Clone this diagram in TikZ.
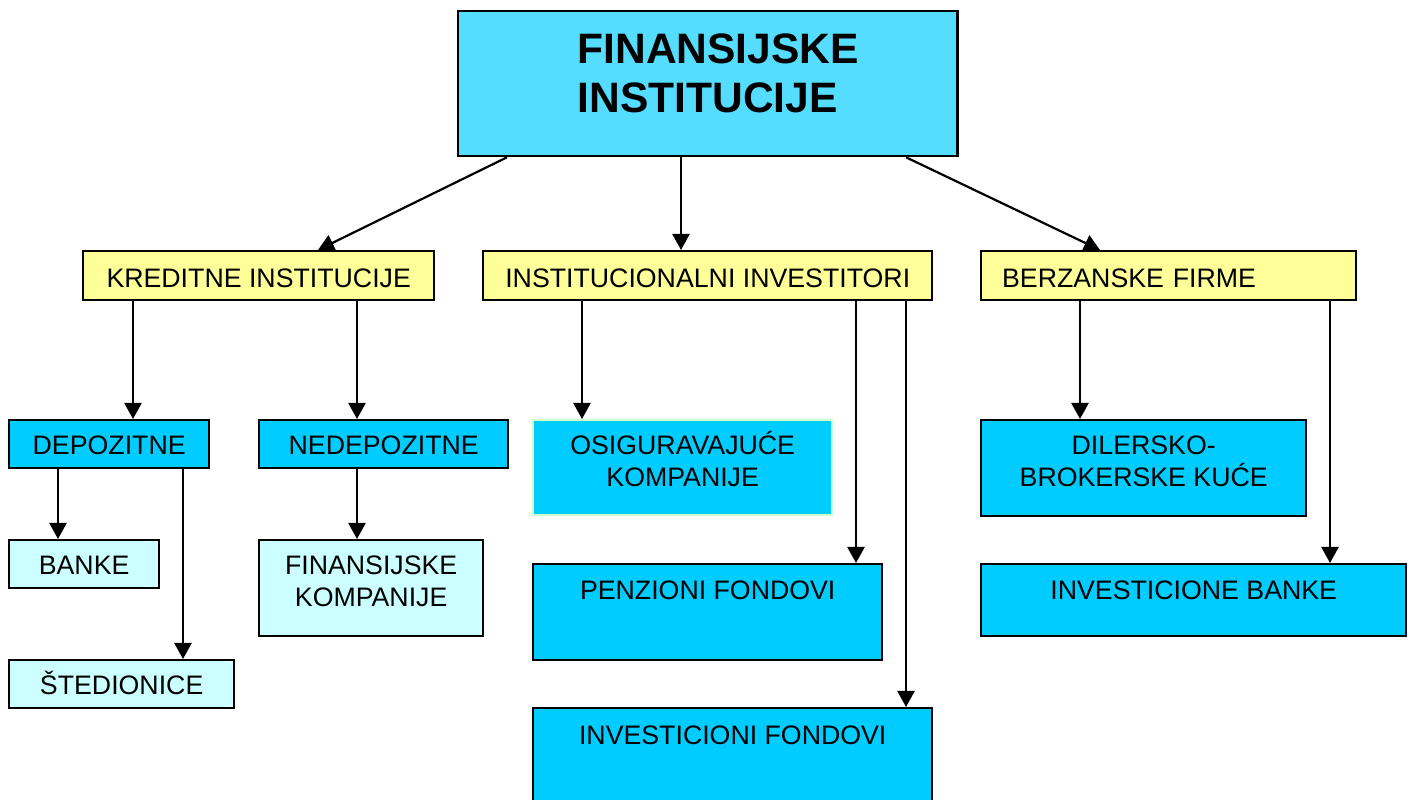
\documentclass[tikz,border=0pt]{standalone}
\usepackage{fontspec}
\setmainfont{Liberation Sans}
\usepackage{tikz}
\usetikzlibrary{arrows.meta}
\definecolor{titlecyan}{HTML}{55DDFF}
\definecolor{boxblue}{HTML}{00CCFF}
\definecolor{boxyellow}{HTML}{FFFF99}
\definecolor{boxlight}{HTML}{CCFFFF}
\definecolor{bordergreen}{HTML}{CCFFCC}
\tikzset{
  box/.style={draw, line width=0.022cm, anchor=north west, inner xsep=0pt, inner ysep=0pt,
    align=center, text height=0.34cm, font=\fontsize{7.6}{9.1}\selectfont},
  titlebox/.style={box, fill=titlecyan, align=left, font=\fontsize{12.1}{13.9}\selectfont\bfseries},
  yellowbox/.style={box, fill=boxyellow, text height=0.36cm, text depth=0.13cm},
  bluebox/.style={box, fill=boxblue},
  lightbox/.style={box, fill=boxlight},
  arr/.style={-{Triangle[length=0.16cm,width=0.17cm]}, line width=0.022cm}
}

\begin{document}
\begin{tikzpicture}[x=0.01cm, y=-0.01cm]
\useasboundingbox (0,0) rectangle (1409,800);
\fill[white] (0,0) rectangle (1409,800);
\clip (0,0) rectangle (1409,800);

% vrh
\node[titlebox, minimum width=4.99cm, text height=1.01cm, text depth=0.44cm] (fin) at (457,10) {\hspace*{0.21cm}FINANSIJSKE\\\hspace*{0.21cm}INSTITUCIJE};

% drugi nivo
\node[yellowbox, minimum width=3.51cm] (kred) at (82,250) {KREDITNE INSTITUCIJE};
\node[yellowbox, minimum width=4.49cm] (inst) at (482,250) {INSTITUCIONALNI INVESTITORI};
\node[yellowbox, text width=3.33cm, inner xsep=0.21cm, align=left] (berz) at (980,250) {BERZANSKE FIRME};

% treci nivo
\node[bluebox, minimum width=2.00cm, text depth=0.14cm] (dep) at (8,419) {DEPOZITNE};
\node[bluebox, minimum width=2.49cm, text depth=0.14cm] (nedep) at (258,419) {NEDEPOZITNE};
\node[bluebox, draw=bordergreen, minimum width=2.99cm, text height=0.66cm, text depth=0.29cm] (osig) at (532,419) {OSIGURAVAJUĆE\\KOMPANIJE};
\node[bluebox, minimum width=3.49cm, text height=0.35cm, text depth=0.61cm] (penz) at (532,563) {PENZIONI FONDOVI};
\node[bluebox, minimum width=3.99cm, text height=0.36cm, text depth=1.00cm] (invf) at (532,707) {INVESTICIONI FONDOVI};
\node[bluebox, minimum width=3.25cm, text height=0.66cm, text depth=0.30cm] (dil) at (980,419) {DILERSKO-\\BROKERSKE KUĆE};
\node[bluebox, minimum width=4.25cm, text height=0.35cm, text depth=0.37cm] (invb) at (980,563) {INVESTICIONE BANKE};

% cetvrti nivo
\node[lightbox, minimum width=1.50cm, text depth=0.14cm] (banke) at (8,539) {BANKE};
\node[lightbox, minimum width=2.25cm, text depth=0.14cm] (sted) at (8,659) {ŠTEDIONICE};
\node[lightbox, minimum width=2.24cm, text height=0.66cm, text depth=0.30cm] (fkomp) at (258,539) {FINANSIJSKE\\KOMPANIJE};

% strelice
\draw[arr] (fin.south -| 507,0) -- (kred.north -| 318,0);
\draw[arr] (fin.south -| 681,0) -- (inst.north -| 681,0);
\draw[arr] (fin.south -| 906,0) -- (berz.north -| 1100,0);
\draw[arr] (kred.south -| 133,0) -- (dep.north -| 133,0);
\draw[arr] (kred.south -| 357,0) -- (nedep.north -| 357,0);
\draw[arr] (inst.south -| 582,0) -- (osig.north -| 582,0);
\draw[arr] (inst.south -| 856,0) -- (penz.north -| 856,0);
\draw[arr] (inst.south -| 906,0) -- (invf.north -| 906,0);
\draw[arr] (berz.south -| 1080,0) -- (dil.north -| 1080,0);
\draw[arr] (berz.south -| 1330,0) -- (invb.north -| 1330,0);
\draw[arr] (dep.south -| 58,0) -- (banke.north -| 58,0);
\draw[arr] (dep.south -| 183,0) -- (sted.north -| 183,0);
\draw[arr] (nedep.south -| 357,0) -- (fkomp.north -| 357,0);
\end{tikzpicture}
\end{document}
